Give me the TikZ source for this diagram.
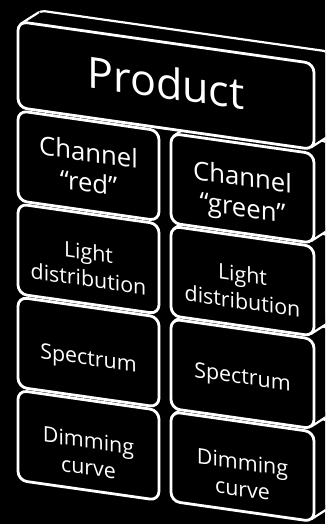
\documentclass[tikz,border=0pt]{standalone}
\usepackage{fontspec}
\setmainfont{Open Sans}
\tikzset{
  frontface/.style={draw=white, fill=black, line width=2.8pt, rounded corners=9pt},
  backface/.style={draw=white, fill=black, line width=2.2pt, rounded corners=9pt},
  edgeline/.style={draw=white, line width=2.2pt},
  boxtext/.style={text=white, align=center, transform shape, inner sep=0pt},
  bigtext/.style={boxtext, font=\fontsize{43}{50}\selectfont},
  midtext/.style={boxtext, font=\fontsize{25.7}{30.5}\selectfont},
  smalltext/.style={boxtext, font=\fontsize{21.4}{26.8}\selectfont},
}
% extrusion of a box: back face, side fill, silhouette edges
\newcommand\extrude[4]{%
  \path[backface] ([shift={(18,-14.06)}]#1,#2) rectangle ([shift={(18,-14.06)}]#3,#4);
  \fill[black] (#1+3.0,#2+1.7) -- ++(18,-14.06) -- (#3-3.0+18,#4-1.7-14.06) -- (#3-3.0,#4-1.7) -- cycle;
  \draw[edgeline] (#1+3.0,#2+1.7) -- ++(18,-14.06);
  \draw[edgeline] (#3-3.0,#4-1.7) -- ++(18,-14.06);
}
\begin{document}
\begin{tikzpicture}[x=1pt,y=-1pt]
\fill[black] (0,0) rectangle (325,524);
\useasboundingbox (0,0) rectangle (325,524);
\clip (0,0) rectangle (325,524);
\begin{scope}[cm={1,-0.142,0,1,(0pt,2.556pt)}]
  % extrusions (back to front)
  \extrude{171}{389.95}{314}{479.5}
  \extrude{171}{297.2}{314}{386.75}
  \extrude{171}{204.45}{314}{294.0}
  \extrude{171}{111.7}{314}{201.25}
  \extrude{18}{21.5}{314}{107.5}
  % front faces
  \path[frontface] (18,21.5) rectangle (314,107.5);
  \path[frontface] (18,110.7) rectangle (159,200.7);
  \path[frontface] (18,203.9) rectangle (159,293.9);
  \path[frontface] (18,297.1) rectangle (159,387.1);
  \path[frontface] (18,390.3) rectangle (159,480.3);
  \path[frontface] (171,111.7) rectangle (314,201.25);
  \path[frontface] (171,204.45) rectangle (314,294.0);
  \path[frontface] (171,297.2) rectangle (314,386.75);
  \path[frontface] (171,389.95) rectangle (314,479.5);
  % texts
  \node[bigtext] (product) at (166,61.5) {Product};
  \node[midtext] (chred) at (88.5,157.3) {Channel\\“red”};
  \node[smalltext] (lightl) at (88.5,255.3) {Light\\distribution};
  \node[smalltext] (specl) at (88.5,350) {Spectrum};
  \node[smalltext] (diml) at (88.5,444) {Dimming\\curve};
  \node[midtext] (chgreen) at (242.5,162.8) {Channel\\“green”};
  \node[smalltext] (lightr) at (242.5,255.8) {Light\\distribution};
  \node[smalltext] (specr) at (242.5,347) {Spectrum};
  \node[smalltext] (dimr) at (242.5,443.7) {Dimming\\curve};
\end{scope}
\end{tikzpicture}
\end{document}
